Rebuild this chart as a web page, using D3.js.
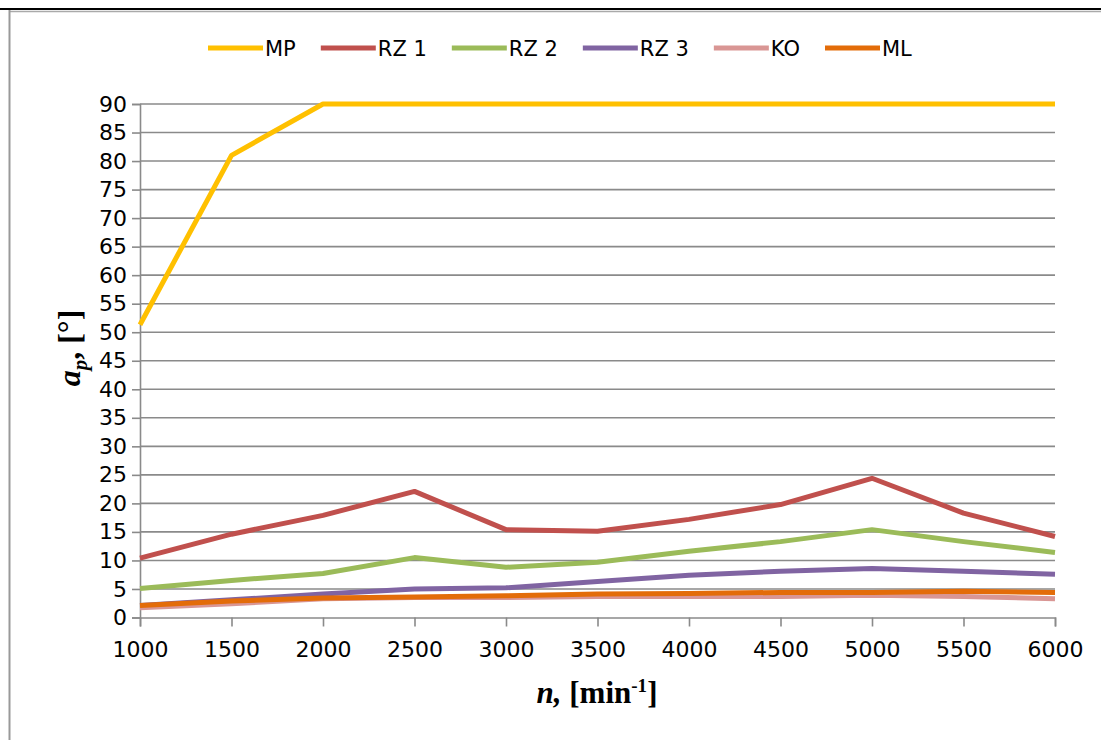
<!DOCTYPE html>
<html><head><meta charset="utf-8">
<script src="https://cdn.jsdelivr.net/npm/d3@7"></script>
<style>body{margin:0;background:#fff}svg{display:block}</style>
</head><body><svg id="c" width="1101" height="740"></svg>
<script>
const xValues = [1000,1500,2000,2500,3000,3500,4000,4500,5000,5500,6000];
const seriesNames = ["MP","RZ 1","RZ 2","RZ 3","KO","ML"];
const seriesColors = ["#FFC000","#C0504D","#9BBB59","#8064A2","#D99694","#E36C09"];
const MP  = [51.3,81.0,90,90,90,90,90,90,90,90,90];
const RZ1 = [10.4,14.6,17.9,22.1,15.4,15.1,17.2,19.8,24.4,18.3,14.2];
const RZ2 = [5.1,6.5,7.7,10.5,8.8,9.7,11.6,13.3,15.4,13.3,11.4];
const RZ3 = [2.1,3.1,4.1,5.0,5.2,6.3,7.4,8.1,8.6,8.1,7.6];
const KO  = [1.7,2.4,3.3,3.5,3.5,3.7,3.7,3.7,3.9,3.7,3.3];
const ML  = [2.1,2.9,3.4,3.6,3.8,4.1,4.2,4.4,4.4,4.6,4.4];
const yTicks = d3.range(0,95,5);
const xTicks = xValues;
const seriesValues = [MP,RZ1,RZ2,RZ3,KO,ML];

const svg = d3.select("#c");
const L=140,R=1055,T=104,B=617.5;
const x = d3.scaleLinear().domain([1000,6000]).range([L,R]);
const y = d3.scaleLinear().domain([0,90]).range([B,T]);
const font = "'DejaVu Sans', Verdana, sans-serif";

// page frame artifacts
svg.append("line").attr("x1",0).attr("x2",1101).attr("y1",9).attr("y2",9).attr("stroke","#000").attr("stroke-width",2);
svg.append("line").attr("x1",10).attr("x2",1101).attr("y1",11.5).attr("y2",11.5).attr("stroke","#aaa").attr("stroke-width",1.5);
svg.append("line").attr("x1",9.5).attr("x2",9.5).attr("y1",10).attr("y2",740).attr("stroke","#999").attr("stroke-width",2);

// gridlines
svg.append("g").selectAll("line").data(yTicks.filter(d=>d>0)).join("line")
  .attr("x1",L).attr("x2",R).attr("y1",d=>y(d)).attr("y2",d=>y(d))
  .attr("stroke","#8a8a8a").attr("stroke-width",1.6);

// y axis
const ya = svg.append("g").attr("transform",`translate(${L},0)`)
  .call(d3.axisLeft(y).tickValues(yTicks).tickSize(8).tickPadding(5));
ya.select(".domain").attr("stroke","#8a8a8a").attr("stroke-width",1.6);
ya.selectAll(".tick line").attr("stroke","#8a8a8a").attr("stroke-width",1.6);
ya.selectAll("text").attr("font-family",font).attr("font-size",22).attr("fill","#000");

// x axis
const xa = svg.append("g").attr("transform",`translate(0,${B})`)
  .call(d3.axisBottom(x).tickValues(xTicks).tickSize(9).tickPadding(15).tickFormat(d3.format("d")));
xa.select(".domain").attr("stroke","#8a8a8a").attr("stroke-width",1.6);
xa.selectAll(".tick line").attr("stroke","#8a8a8a").attr("stroke-width",1.6);
xa.selectAll("text").attr("font-family",font).attr("font-size",22).attr("fill","#000");

// lines
const line = d3.line().x((d,i)=>x(xValues[i])).y(d=>y(d));
svg.append("g").selectAll("path").data(seriesValues).join("path")
  .attr("d",d=>line(d)).attr("fill","none")
  .attr("stroke",(d,i)=>seriesColors[i]).attr("stroke-width",5)
  .attr("stroke-linejoin","round");

// legend
const lg = svg.append("g");
let lx = 208;
seriesNames.forEach((n,i)=>{
  lg.append("line").attr("x1",lx).attr("x2",lx+55).attr("y1",48).attr("y2",48)
    .attr("stroke",seriesColors[i]).attr("stroke-width",5);
  const t = lg.append("text").attr("x",lx+57).attr("y",56).attr("font-family",font)
    .attr("font-size",21).text(n);
  lx += 57 + t.node().getComputedTextLength() + 25;
});

// y title
const yt = svg.append("text").attr("transform","translate(80,348) rotate(-90)")
  .attr("text-anchor","middle").attr("font-family","'Liberation Serif', 'Times New Roman', serif")
  .attr("font-size",32).attr("font-weight","bold");
yt.append("tspan").attr("font-style","italic").text("a");
yt.append("tspan").attr("font-style","italic").attr("font-size",21).attr("dy",7).text("p");
yt.append("tspan").attr("dy",-7).text(", [°]");

// x title
const xt = svg.append("text").attr("x",597).attr("y",703)
  .attr("text-anchor","middle").attr("font-family","'Liberation Serif', 'Times New Roman', serif")
  .attr("font-size",31).attr("font-weight","bold");
xt.append("tspan").attr("font-style","italic").text("n,");
xt.append("tspan").text(" [min");
xt.append("tspan").attr("font-size",19).attr("dy",-11).text("-1");
xt.append("tspan").attr("dy",11).text("]");
</script></body></html>
